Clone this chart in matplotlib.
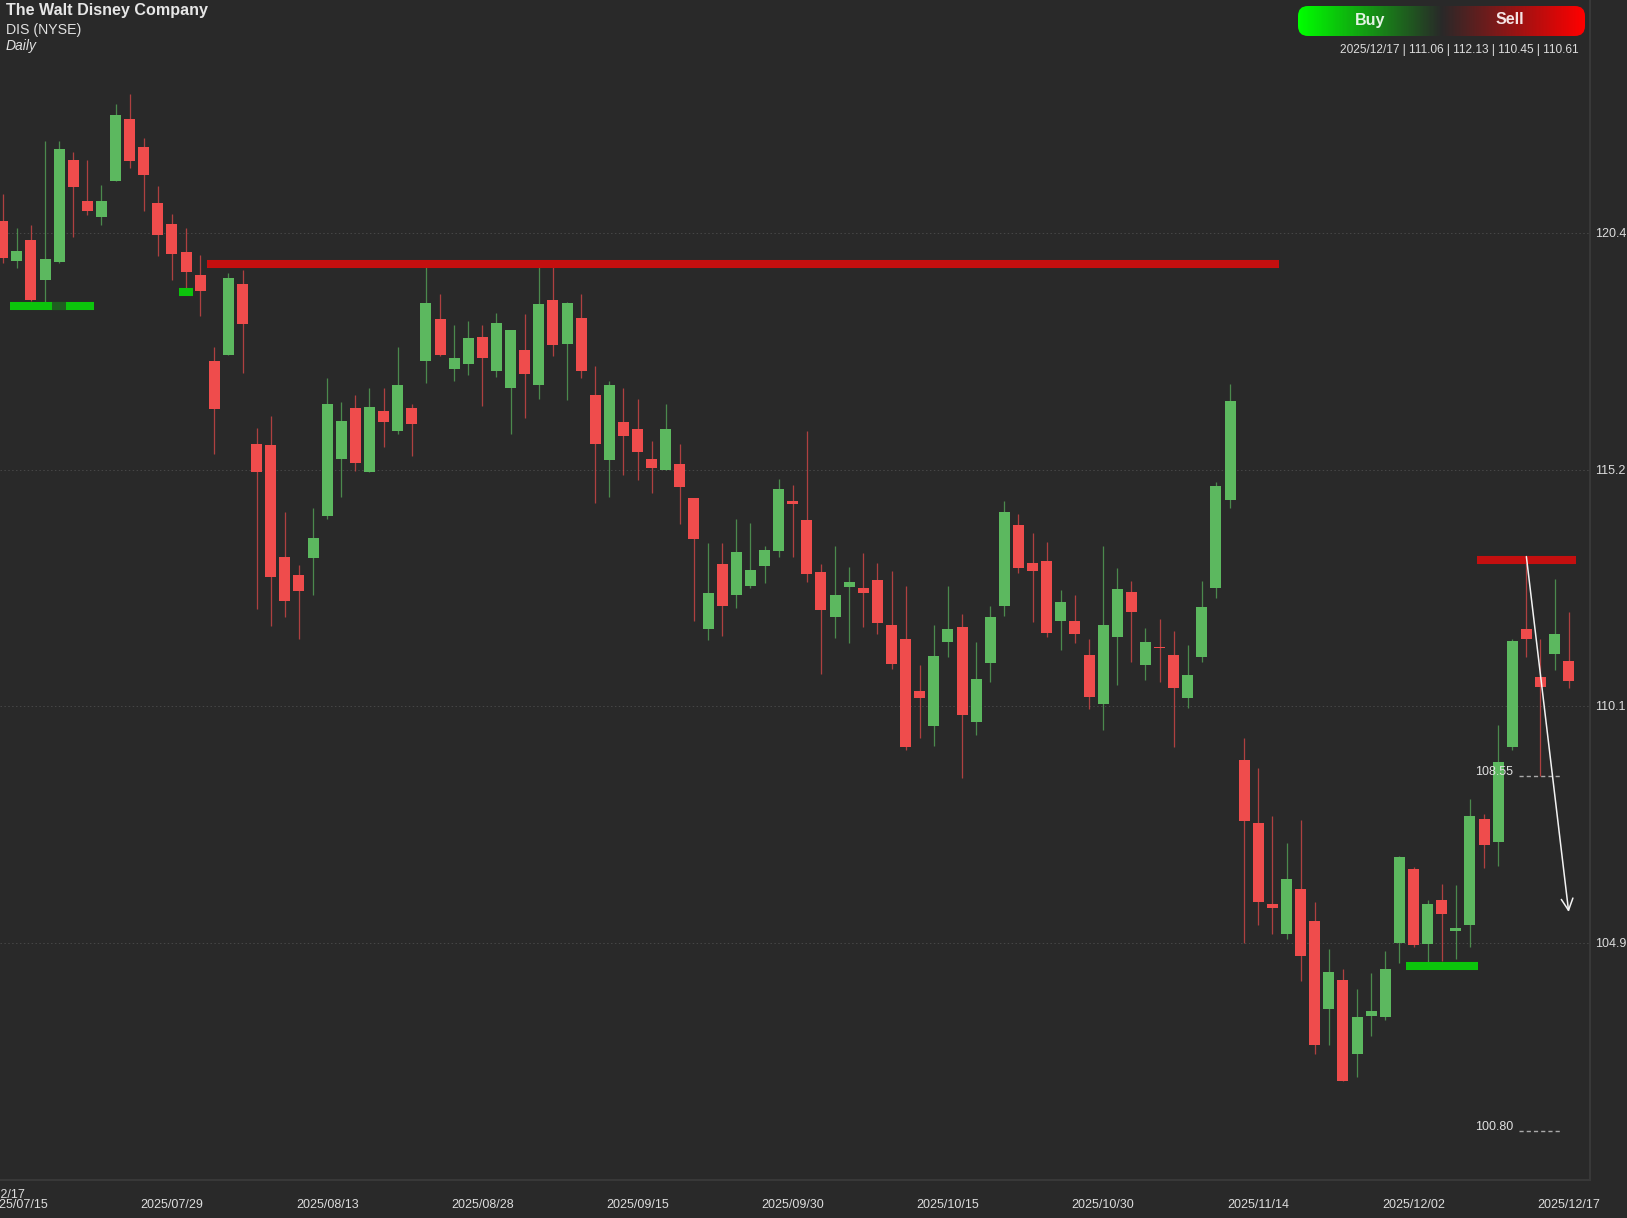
import numpy as np
import matplotlib
matplotlib.use('Agg')
import matplotlib.pyplot as plt
from matplotlib.colors import LinearSegmentedColormap
from matplotlib.patches import FancyBboxPatch

# DIS daily, values
opens = [120.66, 119.78, 120.25, 119.36, 119.75, 121.99, 121.09, 120.75, 121.53, 122.88,
         122.28, 121.05, 120.60, 119.97, 119.48, 117.60, 117.72, 119.27, 115.79, 115.77,
         113.31, 112.92, 113.30, 114.22, 115.47, 116.58, 115.18, 116.51, 116.07, 116.58,
         117.59, 118.51, 117.43, 117.53, 118.12, 117.39, 117.02, 117.84, 117.07, 118.92,
         117.96, 118.54, 116.86, 115.44, 116.27, 116.12, 115.47, 115.23, 115.34, 114.61,
         111.75, 113.17, 112.49, 112.69, 113.12, 113.46, 114.54, 114.13, 112.99, 112.02,
         112.67, 112.64, 112.82, 111.83, 111.54, 110.39, 109.63, 111.46, 111.79, 109.72,
         111.01, 112.24, 114.01, 113.18, 113.24, 111.93, 111.92, 111.19, 110.12, 111.57,
         112.56, 110.96, 111.36, 111.18, 110.24, 111.14, 112.64, 114.57, 108.89, 107.52,
         105.74, 105.08, 106.08, 105.37, 103.46, 104.08, 102.47, 103.29, 103.28, 104.90,
         106.52, 104.88, 105.84, 105.15, 105.28, 107.59, 107.10, 109.18, 111.74, 110.70,
         111.20, 111.06]
highs = [121.25, 120.51, 120.57, 122.40, 122.40, 122.17, 121.99, 121.44, 123.20, 123.42,
         122.46, 121.42, 120.81, 120.51, 119.91, 117.90, 119.53, 119.59, 116.14, 116.40,
         114.30, 113.14, 114.40, 117.23, 116.71, 116.85, 117.00, 117.00, 117.90, 116.65,
         119.77, 119.06, 118.38, 118.47, 118.38, 118.65, 118.28, 118.63, 119.66, 119.80,
         118.88, 119.06, 117.50, 117.17, 117.01, 116.76, 115.85, 116.67, 115.79, 114.61,
         113.63, 113.62, 114.15, 114.06, 113.57, 115.02, 114.89, 116.07, 113.16, 113.57,
         113.10, 113.41, 113.20, 113.01, 112.69, 110.96, 111.83, 112.68, 112.08, 111.46,
         112.24, 114.54, 114.27, 113.84, 113.64, 112.60, 112.49, 111.52, 113.57, 113.09,
         112.80, 111.78, 111.97, 111.70, 111.41, 112.79, 114.96, 117.10, 109.36, 108.72,
         107.66, 107.07, 107.58, 105.78, 104.77, 104.32, 103.90, 104.24, 104.72, 106.80,
         106.56, 105.84, 106.19, 106.15, 108.03, 107.72, 109.66, 111.54, 113.34, 111.54,
         112.85, 112.13]
lows = [119.74, 119.62, 118.90, 118.89, 119.74, 120.30, 120.79, 120.57, 121.52, 121.81,
        120.88, 119.90, 119.37, 119.19, 118.59, 115.57, 117.72, 117.34, 112.19, 111.82,
        112.02, 111.54, 112.50, 114.16, 114.62, 115.19, 115.17, 115.73, 116.00, 115.53,
        117.12, 117.71, 117.17, 117.30, 116.62, 117.26, 116.00, 116.36, 116.76, 117.71,
        116.75, 117.23, 114.50, 114.64, 115.10, 115.00, 114.71, 115.23, 114.05, 111.93,
        111.51, 111.60, 112.20, 112.64, 112.76, 113.33, 113.33, 112.78, 110.77, 111.56,
        111.45, 111.80, 111.65, 110.87, 109.11, 109.37, 109.20, 111.14, 108.50, 109.44,
        110.60, 112.04, 112.98, 111.90, 111.58, 111.30, 111.45, 110.01, 109.55, 110.53,
        111.03, 110.64, 110.60, 109.18, 110.03, 111.03, 112.42, 114.40, 104.90, 105.28,
        105.10, 104.99, 104.07, 102.48, 102.67, 101.88, 101.97, 102.87, 103.22, 104.46,
        104.81, 104.48, 104.50, 104.55, 104.81, 106.54, 106.57, 109.11, 111.14, 108.55,
        110.85, 110.45]
closes = [119.85, 120.01, 118.93, 119.83, 122.23, 121.40, 120.87, 121.09, 122.96, 121.97,
          121.66, 120.35, 119.94, 119.55, 119.12, 116.55, 119.41, 118.41, 115.18, 112.89,
          112.35, 112.57, 113.73, 116.66, 116.30, 115.37, 116.59, 116.27, 117.08, 116.22,
          118.86, 117.72, 117.66, 118.10, 117.66, 118.42, 118.27, 117.32, 118.84, 117.94,
          118.86, 117.37, 115.79, 117.07, 115.96, 115.61, 115.26, 116.12, 114.85, 113.71,
          112.53, 112.25, 113.44, 113.03, 113.47, 114.80, 114.48, 112.94, 112.16, 112.50,
          112.77, 112.53, 111.88, 110.98, 109.18, 110.25, 111.16, 111.74, 109.87, 110.66,
          112.00, 114.31, 113.09, 113.01, 111.66, 112.33, 111.64, 110.26, 111.84, 112.62,
          112.12, 111.46, 111.34, 110.47, 110.74, 112.22, 114.87, 116.73, 107.56, 105.78,
          105.66, 106.30, 104.62, 102.67, 104.25, 101.88, 103.28, 103.41, 104.33, 106.77,
          104.85, 105.74, 105.52, 105.23, 107.66, 107.03, 108.84, 111.49, 111.53, 110.48,
          111.63, 110.61]

x_tick_pos = [1, 12, 23, 34, 45, 56, 67, 78, 89, 100, 111]
x_tick_labels = ['2025/07/15', '2025/07/29', '2025/08/13', '2025/08/28', '2025/09/15', '2025/09/30',
                 '2025/10/15', '2025/10/30', '2025/11/14', '2025/12/02', '2025/12/17']
y_ticks = [120.4, 115.23, 110.07, 104.9]
y_tick_labels = ['120.4', '115.2', '110.1', '104.9']

# zones: start, end, level
sell_zones = [(14.5, 90.5, 119.72), (104.5, 111.5, 113.25)]
buy_zones = [(0.5, 6.5, 118.80), (12.5, 13.5, 119.10), (99.5, 104.6, 104.39)]
faded_zones = [(3.5, 4.5, 118.80)]

target_levels = [108.55, 100.80]
target_start = 107.5
target_end = 110.5
arrow_x = [108, 111]
arrow_y = [113.33, 105.57]

BG = '#292929'
GREEN = '#5cb85f'
RED = '#ef4c4c'
W, H = 1627, 1218

plt.rcParams['font.family'] = ['Liberation Sans', 'DejaVu Sans']

fig = plt.figure(figsize=(W / 100, H / 100), dpi=100, facecolor=BG)
ax = fig.add_axes([0, 1 - 1180 / H, 1590 / W, 1180 / H], facecolor=BG)

x = np.arange(len(opens))
opens = np.array(opens)
closes = np.array(closes)
up = closes >= opens
colors = [GREEN if u else RED for u in up]

ax.vlines(x, lows, highs, colors=colors, linewidth=0.9, alpha=0.68, zorder=2)
ax.bar(x, np.abs(closes - opens), bottom=np.minimum(opens, closes), width=0.78,
       color=colors, linewidth=0, zorder=3)

for start, end, level in sell_zones:
    ax.hlines(level, start, end, color='#c40f0f', linewidth=5.8, zorder=4)
for start, end, level in buy_zones:
    ax.hlines(level, start, end, color='#0cc40c', linewidth=5.8, zorder=4)
for start, end, level in faded_zones:
    ax.hlines(level, start, end, color='#1f5f20', linewidth=5.8, zorder=5)

for level in target_levels:
    ax.hlines(level, target_start, target_end, color='#aaaaaa', linewidth=1.0,
              linestyle=(0, (3, 2.2)), zorder=5)
    ax.annotate(f'{level:.2f}', xy=(target_start, level), xytext=(-6, 4), textcoords='offset pixels',
                ha='right', va='center', color='#e0e0e0', fontsize=9, zorder=7)

ax.annotate('', xy=(arrow_x[1], arrow_y[1]), xytext=(arrow_x[0], arrow_y[0]), zorder=6,
            arrowprops=dict(arrowstyle='->,head_length=0.7,head_width=0.35', color='#f2f2f2',
                            lw=1.1, shrinkA=0, shrinkB=0, mutation_scale=12))

ax.set_xlim(-0.19, 112.51)
ax.set_ylim(99.72, 125.48)
ax.set_xticks(x_tick_pos)
ax.set_xticklabels(x_tick_labels)
ax.set_yticks(y_ticks)
ax.set_yticklabels(y_tick_labels)
ax.yaxis.tick_right()
ax.tick_params(axis='x', length=0, pad=13.5, labelsize=9, labelcolor='#dddddd')
ax.tick_params(axis='y', length=0, pad=3.4, labelsize=9, labelcolor='#dddddd')
ax.grid(axis='y', color='#474747', linewidth=0.7, linestyle=(0, (1.5, 2.5)))
ax.set_axisbelow(True)
for side in ['left', 'top']:
    ax.spines[side].set_visible(False)
for side in ['right', 'bottom']:
    ax.spines[side].set_color('#383838')
    ax.spines[side].set_linewidth(1.5)

# header
fig.text(6 / W, 1 - 10 / H, 'The Walt Disney Company', color='#e6e6e6', fontsize=11.6, fontweight='bold', va='center')
fig.text(6 / W, 1 - 30 / H, 'DIS (NYSE)', color='#e0e0e0', fontsize=10.2, va='center')
fig.text(6 / W, 1 - 46 / H, 'Daily', color='#e0e0e0', fontsize=10, style='italic', va='center')
fig.text(1578.7 / W, 1 - 50 / H, '2025/12/17 | 111.06 | 112.13 | 110.45 | 110.61', color='#dddddd',
         fontsize=8.6, ha='right', va='center')
# crosshair date overlapping the first label
fig.text(25 / W, 1 - 1195 / H, '2025/12/17', color='#dddddd', fontsize=9, ha='right', va='center')

# buy / sell pill
pill = fig.add_axes([1298 / W, 1 - 36 / H, 287 / W, 30 / H])
pill.axis('off')
cmap = LinearSegmentedColormap.from_list('buysell', ['#00ff00', '#292929', '#ff0000'])
img = pill.imshow(np.linspace(0, 1, 300).reshape(1, -1), cmap=cmap, aspect='auto', extent=(0, 287, 0, 30))
box = FancyBboxPatch((0, 0), 287, 30, boxstyle='round,pad=0,rounding_size=10',
                     transform=pill.transData, facecolor='none', edgecolor='none')
pill.add_patch(box)
img.set_clip_path(box)
pill.text(72, 16, 'Buy', color='#e4f4e4', fontsize=11.5, fontweight='bold', ha='center', va='center')
pill.text(212, 16, 'Sell', color='#f4e4e4', fontsize=11.5, fontweight='bold', ha='center', va='center')

fig.savefig('out.png', dpi=100, facecolor=BG)
